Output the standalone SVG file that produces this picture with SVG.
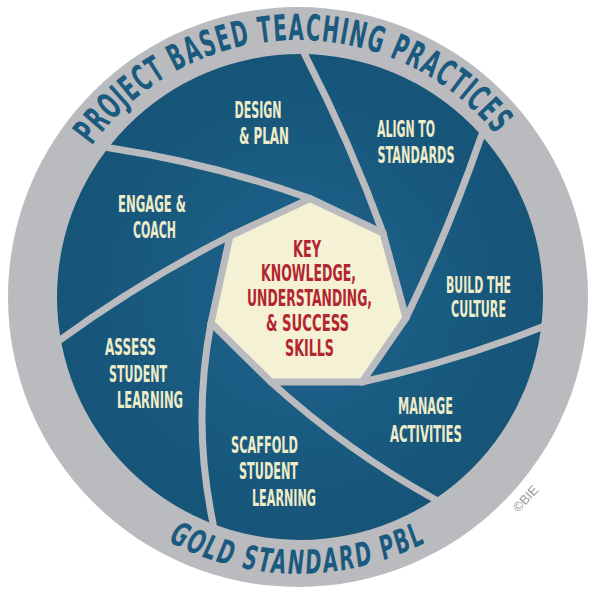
<svg xmlns="http://www.w3.org/2000/svg" width="589" height="590" viewBox="0 0 589 590">
<defs>
<style>
.lbl{font-family:"Liberation Sans Narrow","DejaVu Sans Condensed","DejaVu Sans",sans-serif;font-weight:bold;font-size:23px;fill:#eeecc8}
.ctr{font-family:"Liberation Sans Narrow","DejaVu Sans Condensed","DejaVu Sans",sans-serif;font-weight:bold;font-size:23px;fill:#b3262f}
.ring{font-family:"Liberation Sans Narrow","DejaVu Sans Condensed","DejaVu Sans",sans-serif;font-weight:bold;fill:#1a5a7f}
.blade{fill:none;stroke:#babbbe;stroke-width:7;stroke-linecap:round}
</style>
<radialGradient id="blueg" cx="300" cy="297" r="243" gradientUnits="userSpaceOnUse">
<stop offset="0.3" stop-color="#1c5f86"/>
<stop offset="1" stop-color="#165478"/>
</radialGradient>
<path id="topArc" d="M62.6,389.7 A254,254 0 1 1 537.9,377.3"/>
<path id="botArc" d="M37.8,391.7 A277,277 0 0 0 558.2,391.7"/>
</defs>
<g id="ring">
<circle cx="298" cy="297" r="290" fill="#babbbe"/>
<text class="ring" font-size="36" letter-spacing="2"><textPath href="#topArc" startOffset="50%" text-anchor="middle" textLength="468" lengthAdjust="spacingAndGlyphs">PROJECT BASED TEACHING PRACTICES</textPath></text>
<text class="ring" font-size="33" font-style="italic" letter-spacing="3"><textPath href="#botArc" startOffset="50%" text-anchor="middle" textLength="270" lengthAdjust="spacingAndGlyphs">GOLD STANDARD PBL</textPath></text>
</g>
<g id="copyright" transform="translate(525.5,498.5) rotate(-47)">
<text x="0" y="4.5" font-family="Liberation Sans, sans-serif" font-size="13" fill="#9a9b9f" text-anchor="middle">©BIE</text>
</g>
<g id="disc">
<circle cx="300" cy="297" r="243" fill="url(#blueg)"/>
</g>
<g id="connectors">
<path class="blade" d="M104.2,146.5 L110,148 Q212.5,163.6 310,198.5"/>
<path class="blade" d="M303.6,51.5 L306,57 Q350,142.6 383,233"/>
<path class="blade" d="M483.3,131.5 L481,137 Q449,229.8 406,318"/>
<path class="blade" d="M547.7,325.2 L542,327 Q453.5,362 362,382"/>
<path class="blade" d="M440.9,503.5 L436,500 Q346.5,450.8 271,382"/>
<path class="blade" d="M213.1,529 L213,523 Q192,423.2 211,323"/>
<path class="blade" d="M54.9,343.1 L60,340 Q140.8,281.2 230,236"/>
</g>
<g id="node-center">
<polygon points="310,198.5 383,233 406,318 362,382 271,382 211,323 230,236" fill="#f4f1d5" stroke="#babbbe" stroke-width="7" stroke-linejoin="miter"/>
<text class="ctr" text-anchor="middle" x="307" y="257" textLength="28" lengthAdjust="spacingAndGlyphs">KEY</text>
<text class="ctr" text-anchor="middle" x="308.5" y="281" textLength="95" lengthAdjust="spacingAndGlyphs">KNOWLEDGE,</text>
<text class="ctr" text-anchor="middle" x="309.5" y="306" textLength="125" lengthAdjust="spacingAndGlyphs">UNDERSTANDING,</text>
<text class="ctr" text-anchor="middle" x="307.5" y="331" textLength="83" lengthAdjust="spacingAndGlyphs">&amp; SUCCESS</text>
<text class="ctr" text-anchor="middle" x="309.5" y="356" textLength="49" lengthAdjust="spacingAndGlyphs">SKILLS</text>
</g>
<g id="node-design">
<text class="lbl" text-anchor="middle" x="258" y="118" textLength="47" lengthAdjust="spacingAndGlyphs">DESIGN</text>
<text class="lbl" text-anchor="middle" x="264" y="144" textLength="50" lengthAdjust="spacingAndGlyphs">&amp; PLAN</text>
</g>
<g id="node-align">
<text class="lbl" text-anchor="middle" x="406" y="137" textLength="58" lengthAdjust="spacingAndGlyphs">ALIGN TO</text>
<text class="lbl" text-anchor="middle" x="416" y="163" textLength="77" lengthAdjust="spacingAndGlyphs">STANDARDS</text>
</g>
<g id="node-build">
<text class="lbl" text-anchor="middle" x="478.5" y="293" textLength="65" lengthAdjust="spacingAndGlyphs">BUILD THE</text>
<text class="lbl" text-anchor="middle" x="478.5" y="317" textLength="55" lengthAdjust="spacingAndGlyphs">CULTURE</text>
</g>
<g id="node-manage">
<text class="lbl" text-anchor="middle" x="425.5" y="414" textLength="55" lengthAdjust="spacingAndGlyphs">MANAGE</text>
<text class="lbl" text-anchor="middle" x="426" y="442" textLength="72" lengthAdjust="spacingAndGlyphs">ACTIVITIES</text>
</g>
<g id="node-scaffold">
<text class="lbl" text-anchor="middle" x="264.5" y="453" textLength="67" lengthAdjust="spacingAndGlyphs">SCAFFOLD</text>
<text class="lbl" text-anchor="middle" x="268.5" y="479" textLength="59" lengthAdjust="spacingAndGlyphs">STUDENT</text>
<text class="lbl" text-anchor="middle" x="284" y="506" textLength="64" lengthAdjust="spacingAndGlyphs">LEARNING</text>
</g>
<g id="node-assess">
<text class="lbl" text-anchor="middle" x="130.5" y="355" textLength="51" lengthAdjust="spacingAndGlyphs">ASSESS</text>
<text class="lbl" text-anchor="middle" x="138" y="382" textLength="58" lengthAdjust="spacingAndGlyphs">STUDENT</text>
<text class="lbl" text-anchor="middle" x="150" y="408" textLength="66" lengthAdjust="spacingAndGlyphs">LEARNING</text>
</g>
<g id="node-engage">
<text class="lbl" text-anchor="middle" x="152" y="212" textLength="68" lengthAdjust="spacingAndGlyphs">ENGAGE &amp;</text>
<text class="lbl" text-anchor="middle" x="154.5" y="238" textLength="43" lengthAdjust="spacingAndGlyphs">COACH</text>
</g>
</svg>
